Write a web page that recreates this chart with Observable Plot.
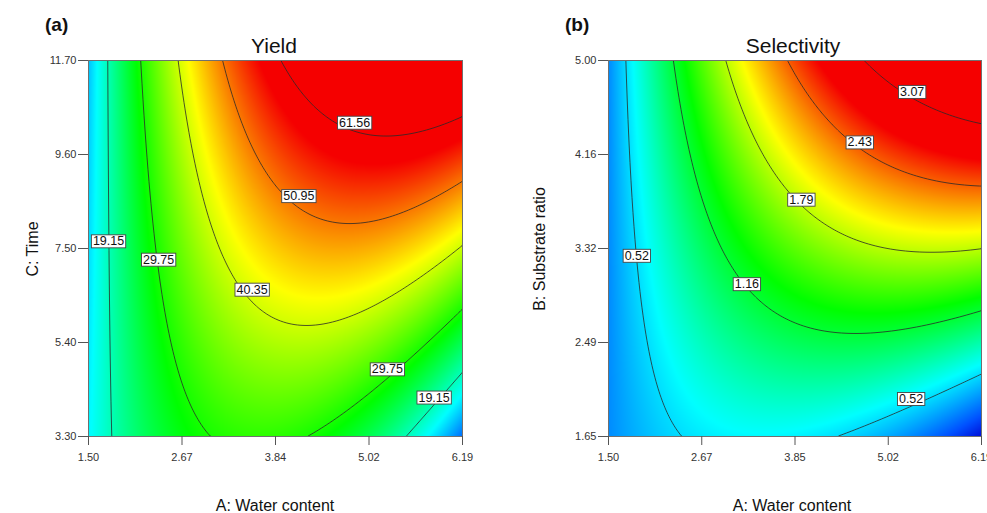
<!DOCTYPE html>
<html><head><meta charset="utf-8">
<script src="https://cdn.jsdelivr.net/npm/d3@7"></script>
<script src="https://cdn.jsdelivr.net/npm/@observablehq/plot@0.6"></script>
<style>
html,body{margin:0;padding:0;background:#fff;}
#wrap{position:relative;width:987px;height:513px;overflow:hidden;font-family:"Liberation Sans",Arial,sans-serif;}
.c{position:absolute;white-space:nowrap;transform:translate(-50%,-50%);line-height:1;color:#111;}
.rot{transform:translate(-50%,-50%) rotate(-90deg);}
.tag{position:absolute;white-space:nowrap;line-height:1;font-weight:bold;font-size:19px;color:#111;}
.panel{position:absolute;top:0;}
</style></head><body>
<div id="wrap"></div>
<script>
// ---- data ----
// response grids: rows = factor on the y axis (bottom -> top, 5 levels), columns = A: Water content (left -> right, 5 levels)
const yieldGrid = [
  [15.10, 27.78, 30.88, 24.38,  8.30],
  [14.43, 31.24, 38.46, 36.10, 24.14],
  [13.75, 34.65, 45.96, 47.69, 39.83],
  [13.08, 38.02, 53.39, 59.16, 55.34],
  [12.40, 41.36, 60.73, 70.51, 70.70]
];
const selectivityGrid = [
  [0.276, 0.559, 0.589, 0.367, -0.108],
  [0.273, 0.793, 1.061, 1.076,  0.838],
  [0.272, 1.031, 1.537, 1.791,  1.792],
  [0.272, 1.271, 2.018, 2.512,  2.754],
  [0.270, 1.511, 2.500, 3.236,  3.720]
];
const waterDomain = [1.50, 6.19];
const timeDomain = [3.30, 11.70];
const ratioDomain = [1.65, 5.00];

const xTickValues = [1.5, 2.6725, 3.845, 5.0175, 6.19];
const yieldXTickLabels = ["1.50", "2.67", "3.84", "5.02", "6.19"];
const selXTickLabels = ["1.50", "2.67", "3.85", "5.02", "6.19"];
const timeTickValues = [3.3, 5.4, 7.5, 9.6, 11.7];
const timeTickLabels = ["3.30", "5.40", "7.50", "9.60", "11.70"];
const ratioTickValues = [1.65, 2.4875, 3.325, 4.1625, 5.0];
const ratioTickLabels = ["1.65", "2.49", "3.32", "4.16", "5.00"];

const yieldLevels = [19.15, 29.75, 40.35, 50.95, 61.56];
const selLevels = [0.52, 1.16, 1.79, 2.43, 3.07];

const yieldLabelText = ["19.15", "29.75", "40.35", "50.95", "61.56", "29.75", "19.15"];
const yieldLabelA = [1.751, 2.379, 3.552, 4.138, 4.837, 5.248, 5.834];
const yieldLabelC = [7.66, 7.25, 6.58, 8.67, 10.31, 4.80, 4.17];

const selLabelText = ["0.52", "1.16", "1.79", "2.43", "3.07", "0.52"];
const selLabelA = [1.856, 3.240, 3.925, 4.659, 5.318, 5.305];
const selLabelB = [3.26, 3.007, 3.76, 4.27, 4.72, 1.984];

const yieldColorStops = [3, 15.5, 28.5, 43, 58];
const yieldColors = ["#0000ff", "#00ffff", "#00ff00", "#ffff00", "#f50000"];
const selColorStops = [-0.15, 0.1, 0.62, 1.3, 1.97, 2.7];
const selColors = ["#0000d0", "#0050ff", "#00ffff", "#00ff00", "#ffff00", "#f50000"];

// ---- drawing ----
const wrap = document.getElementById("wrap");
const FONT = "Liberation Sans, Arial, sans-serif";

function makePanel(o) {
  const nodes = [0, 0.25, 0.5, 0.75, 1];
  const weights = t => nodes.map((ni, i) => nodes.reduce((p, nj, j) => j === i ? p : p * (t - nj) / (ni - nj), 1));
  // smooth (Lagrange) interpolation of the read grid
  const value = (x, y) => {
    const wu = weights((x - o.xDom[0]) / (o.xDom[1] - o.xDom[0]));
    const wv = weights((y - o.yDom[0]) / (o.yDom[1] - o.yDom[0]));
    let s = 0;
    for (let i = 0; i < 5; ++i) for (let j = 0; j < 5; ++j) s += wv[i] * wu[j] * o.grid[i][j];
    return s;
  };
  const xFmt = new Map(o.xTicks.map((d, i) => [d, o.xTickLabels[i]]));
  const yFmt = new Map(o.yTicks.map((d, i) => [d, o.yTickLabels[i]]));
  const ext = {x1: o.xDom[0], x2: o.xDom[1], y1: o.yDom[0], y2: o.yDom[1]};
  const svg = Plot.plot({
    width: o.width, height: 513,
    marginLeft: o.marginLeft, marginRight: o.marginRight, marginTop: 60, marginBottom: 77,
    style: {background: "transparent", fontFamily: FONT, fontSize: "11px", color: "#333", overflow: "visible"},
    x: {domain: o.xDom},
    y: {domain: o.yDom},
    color: {type: "linear", domain: o.colorStops, range: o.colors, clamp: true, interpolate: "rgb"},
    marks: [
      Plot.raster({fill: value, ...ext, pixelSize: 1}),
      Plot.contour({value, ...ext, thresholds: o.levels, stroke: "#2a2a2a", strokeWidth: 0.8, fill: "none", pixelSize: 1}),
      Plot.frame({stroke: "#707070"}),
      Plot.axisX(o.xTicks, {tickFormat: d => xFmt.get(d), tickSize: 9, tickPadding: 8, fontSize: 11, fontFamily: FONT, stroke: "#555", fill: "#333", label: null}),
      Plot.axisY(o.yTicks, {tickFormat: d => yFmt.get(d), tickSize: 10, tickPadding: 2, fontSize: 11, fontFamily: FONT, stroke: "#555", fill: "#333", label: null}),
      Plot.text(o.labText, {x: (d, i) => o.labX[i], y: (d, i) => o.labY[i], text: d => d,
        fontSize: 12.5, fontFamily: FONT, fill: "#111", ariaDescription: "contour-labels"})
    ]
  });
  const holder = document.createElement("div");
  holder.className = "panel";
  holder.style.left = o.left + "px";
  holder.appendChild(svg);
  wrap.appendChild(holder);
  // white boxes behind contour labels
  const ns = "http://www.w3.org/2000/svg";
  svg.querySelectorAll('[aria-description="contour-labels"] text').forEach(t => {
    const bb = t.getBBox();
    const r = document.createElementNS(ns, "rect");
    r.setAttribute("x", bb.x - 1.5);
    r.setAttribute("y", bb.y + 0.5);
    r.setAttribute("width", bb.width + 3);
    r.setAttribute("height", bb.height - 1);
    r.setAttribute("fill", "#fff");
    r.setAttribute("stroke", "#444");
    r.setAttribute("stroke-width", "0.9");
    if (t.getAttribute("transform")) r.setAttribute("transform", t.getAttribute("transform"));
    t.parentNode.insertBefore(r, t);
  });
}

makePanel({
  grid: yieldGrid, xDom: waterDomain, yDom: timeDomain,
  xTicks: xTickValues, xTickLabels: yieldXTickLabels, yTicks: timeTickValues, yTickLabels: timeTickLabels,
  levels: yieldLevels, labText: yieldLabelText, labX: yieldLabelA, labY: yieldLabelC,
  colorStops: yieldColorStops, colors: yieldColors,
  left: 0, width: 493, marginLeft: 88, marginRight: 31
});
makePanel({
  grid: selectivityGrid, xDom: waterDomain, yDom: ratioDomain,
  xTicks: xTickValues, xTickLabels: selXTickLabels, yTicks: ratioTickValues, yTickLabels: ratioTickLabels,
  levels: selLevels, labText: selLabelText, labX: selLabelA, labY: selLabelB,
  colorStops: selColorStops, colors: selColors,
  left: 493, width: 494, marginLeft: 115, marginRight: 6
});

function addText(cls, txt, x, y, size) {
  const d = document.createElement("div");
  d.className = cls;
  d.textContent = txt;
  d.style.left = x + "px";
  d.style.top = y + "px";
  if (size) d.style.fontSize = size + "px";
  wrap.appendChild(d);
}
addText("tag", "(a)", 45, 15);
addText("tag", "(b)", 565, 15);
addText("c", "Yield", 274, 45, 21);
addText("c", "Selectivity", 793, 45, 21);
addText("c", "A: Water content", 275, 506, 16);
addText("c", "A: Water content", 792, 506, 16);
addText("c rot", "C: Time", 33, 249, 16);
addText("c rot", "B: Substrate ratio", 540, 249, 16);
</script></body></html>
